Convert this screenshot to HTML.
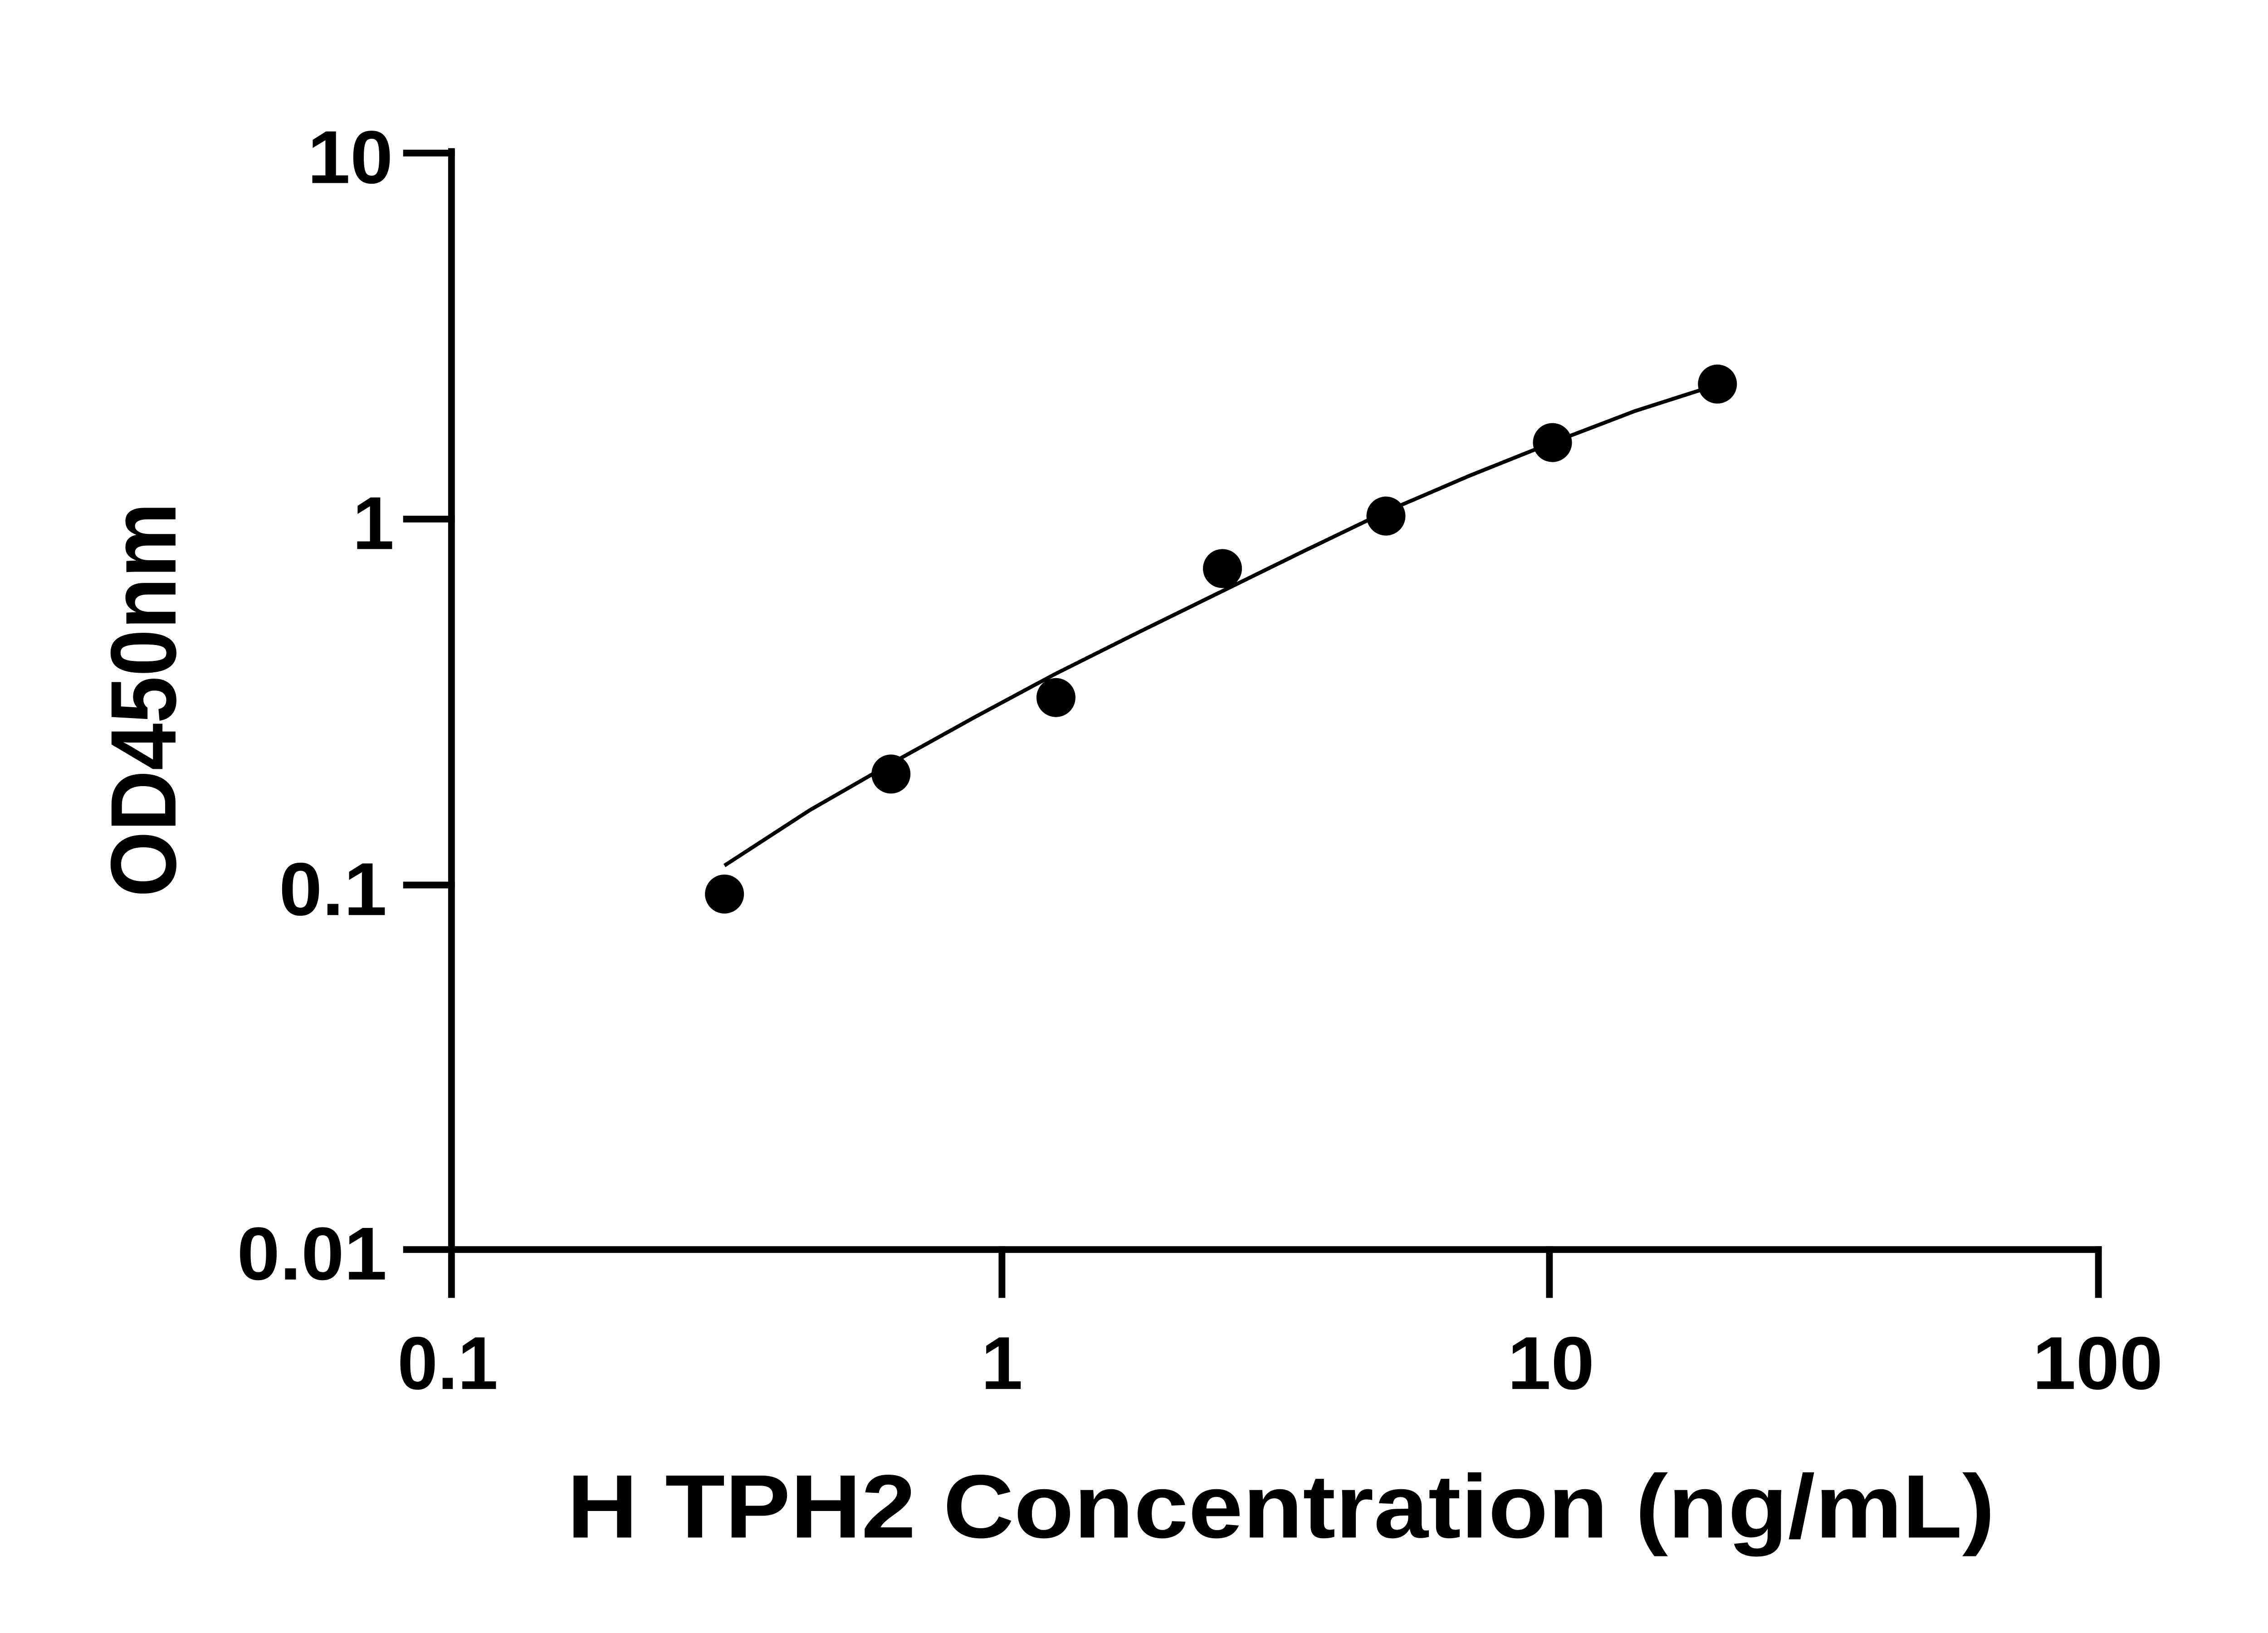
<!DOCTYPE html>
<html><head><meta charset="utf-8"><style>html,body{margin:0;padding:0;background:#fff}svg{display:block}</style></head>
<body>
<svg width="5142" height="3600" viewBox="0 0 1555 1088.6" xmlns="http://www.w3.org/2000/svg">
<rect width="1555" height="1088.6" fill="#fff"/>
<g stroke="#000" stroke-width="4.5" fill="none" stroke-linecap="square">
<line x1="301" y1="101" x2="301" y2="833"/>
<line x1="271" y1="833" x2="1399" y2="833"/>
<line x1="271" y1="102" x2="301" y2="102"/>
<line x1="271" y1="346" x2="301" y2="346"/>
<line x1="271" y1="590" x2="301" y2="590"/>
<line x1="301" y1="833" x2="301" y2="863"/>
<line x1="668" y1="833" x2="668" y2="863"/>
<line x1="1033" y1="833" x2="1033" y2="863"/>
<line x1="1399" y1="833" x2="1399" y2="863"/>
</g>
<path d="M483,577 L540,540 L594,509 L650,478 L704,449 L760,421 L815,394 L870,367 L924,341 L980,317 L1035,295 L1090,274 L1140,258" stroke="#000" stroke-width="2.5" fill="none"/>
<g fill="#000">
<circle cx="483" cy="596" r="13"/><circle cx="594" cy="516" r="13"/><circle cx="704" cy="465" r="13"/>
<circle cx="815" cy="379" r="13"/><circle cx="924" cy="344" r="13"/><circle cx="1035" cy="295" r="13"/>
<circle cx="1145" cy="256" r="13"/>
</g>
<g font-family="Liberation Sans, sans-serif" font-weight="bold" font-size="50" fill="#000">
<text x="205" y="122" textLength="57" lengthAdjust="spacingAndGlyphs">10</text>
<text x="235" y="366">1</text>
<text x="186" y="610" textLength="72" lengthAdjust="spacingAndGlyphs">0.1</text>
<text x="158" y="853" textLength="100" lengthAdjust="spacingAndGlyphs">0.01</text>
<text x="265" y="926" textLength="67" lengthAdjust="spacingAndGlyphs">0.1</text>
<text x="668" y="926" text-anchor="middle">1</text>
<text x="1005" y="926" textLength="58" lengthAdjust="spacingAndGlyphs">10</text>
<text x="1355" y="926" textLength="87" lengthAdjust="spacingAndGlyphs">100</text>
</g>
<text x="378" y="1025" textLength="952" lengthAdjust="spacingAndGlyphs" font-family="Liberation Sans, sans-serif" font-weight="bold" font-size="60">H TPH2 Concentration (ng/mL)</text>
<text transform="translate(117,598) rotate(-90)" textLength="263" lengthAdjust="spacingAndGlyphs" font-family="Liberation Sans, sans-serif" font-weight="bold" font-size="62">OD450nm</text>
</svg>
</body></html>
